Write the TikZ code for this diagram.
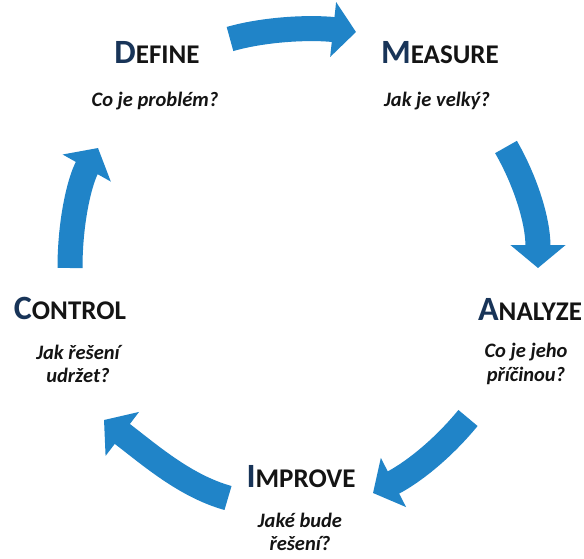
\documentclass[tikz,border=0pt]{standalone}
\usepackage{fontspec}
\setmainfont{Carlito}
\usetikzlibrary{arrows.meta}
\definecolor{cycleblue}{RGB}{32,132,200}
\definecolor{initialblue}{RGB}{24,52,88}
\definecolor{inktext}{RGB}{20,20,20}
% step title: large coloured initial followed by smaller capitals
\newcommand{\steptitle}[2]{{\fontsize{34}{34}\selectfont\color{initialblue}#1}{\fontsize{27}{27}\selectfont #2}}
\begin{document}
\begin{tikzpicture}[x=1pt,y=-1pt,
  title/.style={font=\bfseries, text=inktext, inner sep=0pt, anchor=base},
  question/.style={font=\bfseries\itshape\fontsize{20.5}{23.5}\selectfont, text=inktext,
    align=center, inner sep=0pt},
  cyclearrow/.style={draw=cycleblue, line width=25pt, line cap=butt,
    -{Triangle[width=54pt,length=23pt]}}]
\useasboundingbox (0,0) rectangle (584,559);
\fill[white] (0,0) rectangle (584,559);

% phase titles
\node[title] (define)  at (157,64)  {\steptitle{D}{EFINE}};
\node[title] (measure) at (440,64)  {\steptitle{M}{EASURE}};
\node[title] (analyze) at (530,320) {\steptitle{A}{NALYZE}};
\node[title] (improve) at (301,487) {\steptitle{I}{MPROVE}};
\node[title] (control) at (70,319)  {\steptitle{C}{ONTROL}};

% guiding questions
\node[question] (qdefine)  at (155,101) {Co je problém?};
\node[question] (qmeasure) at (437,101) {Jak je velký?};
\node[question] (qanalyze) at (526,364) {Co je jeho\\příčinou?};
\node[question] (qimprove) at (300,532) {Jaké bude\\řešení?};
\node[question] (qcontrol) at (78,364)  {Jak řešení\\udržet?};

% arrow ends of the cycle
\coordinate (a1s) at (230,39);  \coordinate (a1e) at (356,32);
\coordinate (a2s) at (506,147); \coordinate (a2e) at (538,268);
\coordinate (a3s) at (468,418); \coordinate (a3e) at (373,493);
\coordinate (a4s) at (228,498); \coordinate (a4e) at (104,420);
\coordinate (a5s) at (70,268);  \coordinate (a5e) at (98,148);

% curved arrows of the cycle
\draw[cyclearrow] (a1s) .. controls (265,29) and (310,27) .. (a1e);
\draw[cyclearrow] (a2s) .. controls (525,180) and (538,220) .. (a2e);
\draw[cyclearrow] (a3s) .. controls (440,452) and (410,474) .. (a3e);
\draw[cyclearrow] (a4s) .. controls (185,486) and (150,455) .. (a4e);
\draw[cyclearrow] (a5s) .. controls (70,220) and (80,180) .. (a5e);
\end{tikzpicture}
\end{document}
